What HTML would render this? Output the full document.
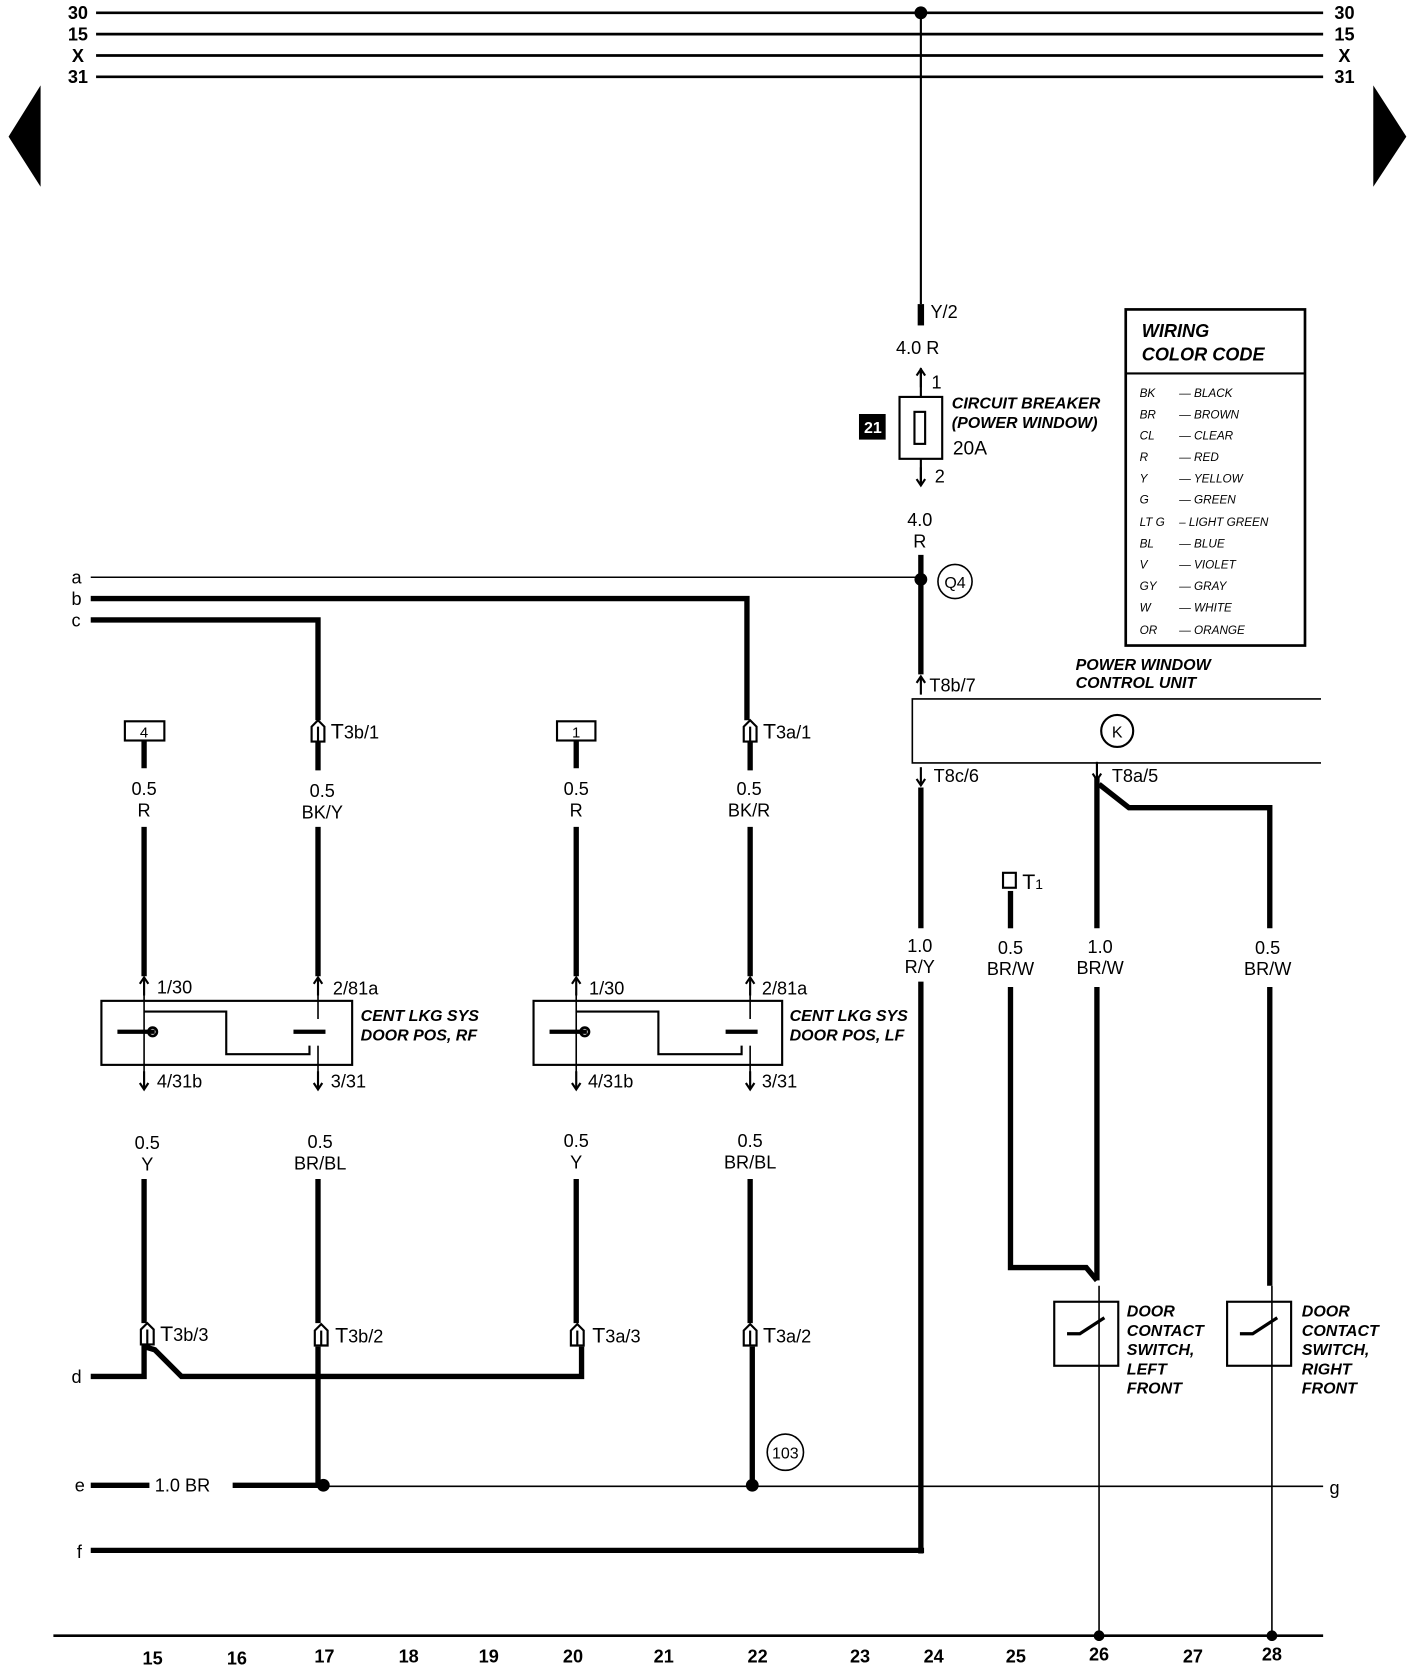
<!DOCTYPE html>
<html><head><meta charset="utf-8"><style>
html,body{margin:0;padding:0;background:#fff}
svg{display:block}
text{font-family:"Liberation Sans",sans-serif;fill:#000}
.b{font-weight:bold}
.i{font-style:italic;font-weight:bold}
</style></head><body>
<svg width="1424" height="1672" viewBox="0 0 1334.5 1567" xmlns="http://www.w3.org/2000/svg">
<defs>
<g id="up"><line x1="0" y1="-8" x2="0" y2="8" stroke="#000" stroke-width="2"/><polyline points="-4,-3 0,-9 4,-3" fill="none" stroke="#000" stroke-width="2"/></g>
<g id="dn"><line x1="0" y1="-8" x2="0" y2="8" stroke="#000" stroke-width="2"/><polyline points="-4,3 0,9 4,3" fill="none" stroke="#000" stroke-width="2"/></g>
<g id="cn"><path d="M-6,10 L-6,-4 L0,-10 L6,-4 L6,10 Z" fill="#fff" stroke="#000" stroke-width="2"/><line x1="0" y1="-4" x2="0" y2="10" stroke="#000" stroke-width="2"/></g>
</defs>
<g stroke="#000" fill="none">
<line x1="90" y1="12" x2="1240" y2="12" stroke-width="2.5"/>
<line x1="90" y1="32" x2="1240" y2="32" stroke-width="2.5"/>
<line x1="90" y1="52" x2="1240" y2="52" stroke-width="2.5"/>
<line x1="90" y1="72" x2="1240" y2="72" stroke-width="2.5"/>
<line x1="863" y1="12" x2="863" y2="285" stroke-width="2"/>
<line x1="863" y1="285" x2="863" y2="305" stroke-width="6"/>
<line x1="863" y1="345" x2="863" y2="372" stroke-width="2"/>
<rect x="843" y="372" width="40" height="58" stroke-width="2"/>
<rect x="857" y="386" width="10" height="30" stroke-width="2"/>
<line x1="863" y1="430" x2="863" y2="455" stroke-width="2"/>
<line x1="863" y1="520" x2="863" y2="632" stroke-width="5"/>
<line x1="85" y1="541" x2="863" y2="541" stroke-width="1.5"/>
<polyline points="85,561 700,561 700,675" stroke-width="5"/>
<polyline points="85,581 298,581 298,675" stroke-width="5"/>
<circle cx="895" cy="545" r="16" stroke-width="1.5"/>
<polyline points="1238,655 855,655 855,715 1238,715" stroke-width="1.5"/>
<circle cx="1047" cy="685" r="15" stroke-width="2"/>
<line x1="863" y1="738" x2="863" y2="870" stroke-width="5"/>
<line x1="863" y1="920" x2="863" y2="1456" stroke-width="5"/>
<line x1="85" y1="1453" x2="866" y2="1453" stroke-width="5"/>
<polyline points="1028,728 1028,870" stroke-width="5"/>
<polyline points="1030,735 1058,757 1190,757 1190,870" stroke-width="5"/>
<line x1="1028" y1="925" x2="1028" y2="1200" stroke-width="5"/>
<line x1="1190" y1="925" x2="1190" y2="1205" stroke-width="5"/>
<polyline points="947,835 947,870" stroke-width="5"/>
<polyline points="947,925 947,1188 1018,1188 1028,1200" stroke-width="5"/>
<rect x="940" y="818" width="12" height="14" stroke-width="2"/>
<rect x="988" y="1220" width="60" height="60" stroke-width="2"/>
<rect x="1150" y="1220" width="60" height="60" stroke-width="2"/>
<line x1="1030" y1="1205" x2="1030" y2="1533" stroke-width="1.5"/>
<line x1="1192" y1="1205" x2="1192" y2="1533" stroke-width="1.5"/>
<polyline points="1000,1250 1012,1250 1035,1235" stroke-width="3"/>
<polyline points="1162,1250 1174,1250 1197,1235" stroke-width="3"/>
<rect x="117" y="676" width="37" height="18" stroke-width="2"/>
<rect x="522" y="676" width="36" height="18" stroke-width="2"/>
<line x1="135" y1="694" x2="135" y2="720" stroke-width="5"/>
<line x1="540" y1="694" x2="540" y2="720" stroke-width="5"/>
<line x1="298" y1="694" x2="298" y2="722" stroke-width="5"/>
<line x1="703" y1="694" x2="703" y2="722" stroke-width="5"/>
<line x1="135" y1="775" x2="135" y2="915" stroke-width="5"/>
<line x1="298" y1="775" x2="298" y2="915" stroke-width="5"/>
<line x1="540" y1="775" x2="540" y2="915" stroke-width="5"/>
<line x1="703" y1="775" x2="703" y2="915" stroke-width="5"/>
<rect x="95" y="938" width="235" height="60" stroke-width="2"/>
<rect x="500" y="938" width="233" height="60" stroke-width="2"/>
<polyline points="135,948 212,948 212,988 290,988 290,980" stroke-width="2"/>
<polyline points="540,948 617,948 617,988 695,988 695,980" stroke-width="2"/>
<line x1="135" y1="930" x2="135" y2="1005" stroke-width="1.5"/>
<line x1="540" y1="930" x2="540" y2="1005" stroke-width="1.5"/>
<line x1="298" y1="930" x2="298" y2="955" stroke-width="1.5"/>
<line x1="703" y1="930" x2="703" y2="955" stroke-width="1.5"/>
<line x1="298" y1="980" x2="298" y2="1005" stroke-width="1.5"/>
<line x1="703" y1="980" x2="703" y2="1005" stroke-width="1.5"/>
<line x1="110" y1="967" x2="145" y2="967" stroke-width="4"/>
<line x1="515" y1="967" x2="550" y2="967" stroke-width="4"/>
<line x1="275" y1="967" x2="305" y2="967" stroke-width="4"/>
<line x1="680" y1="967" x2="710" y2="967" stroke-width="4"/>
<circle cx="143" cy="967" r="4" stroke-width="2.5"/>
<circle cx="548" cy="967" r="4" stroke-width="2.5"/>
<line x1="135" y1="1105" x2="135" y2="1240" stroke-width="5"/>
<line x1="298" y1="1105" x2="298" y2="1240" stroke-width="5"/>
<line x1="540" y1="1105" x2="540" y2="1240" stroke-width="5"/>
<line x1="703" y1="1105" x2="703" y2="1240" stroke-width="5"/>
<polyline points="85,1290 135,1290 135,1262 145,1265 170,1290 545,1290 545,1262" stroke-width="5"/>
<line x1="298" y1="1262" x2="298" y2="1392" stroke-width="5"/>
<line x1="705" y1="1262" x2="705" y2="1392" stroke-width="5"/>
<line x1="85" y1="1392" x2="140" y2="1392" stroke-width="5"/>
<line x1="218" y1="1392" x2="303" y2="1392" stroke-width="5"/>
<line x1="303" y1="1393" x2="1240" y2="1393" stroke-width="1.5"/>
<circle cx="736" cy="1361" r="17" stroke-width="1.5"/>
<line x1="50" y1="1533" x2="1240" y2="1533" stroke-width="2.5"/>
<rect x="1055" y="290" width="168" height="315" stroke-width="2.5"/>
<line x1="1055" y1="350" x2="1223" y2="350" stroke-width="2"/>
</g>
<use href="#up" x="863" y="355"/><use href="#dn" x="863" y="446"/>
<use href="#up" x="863" y="643"/><use href="#dn" x="863" y="727"/><use href="#dn" x="1028" y="722"/>
<use href="#up" x="135" y="925"/><use href="#up" x="298" y="925"/><use href="#up" x="540" y="925"/><use href="#up" x="703" y="925"/>
<use href="#dn" x="135" y="1012"/><use href="#dn" x="298" y="1012"/><use href="#dn" x="540" y="1012"/><use href="#dn" x="703" y="1012"/>
<use href="#cn" x="298" y="685"/><use href="#cn" x="703" y="685"/>
<use href="#cn" x="138" y="1250"/><use href="#cn" x="301" y="1251"/><use href="#cn" x="541" y="1251"/><use href="#cn" x="703" y="1251"/>
<g fill="#000">
<circle cx="863" cy="12" r="6"/>
<circle cx="863" cy="543" r="6"/>
<circle cx="303" cy="1392" r="6"/>
<circle cx="705" cy="1392" r="6"/>
<circle cx="1030" cy="1533" r="5"/>
<circle cx="1192" cy="1533" r="5"/>
<polygon points="38,80 38,175 8,128"/>
<polygon points="1287,80 1287,175 1318,128"/>
<rect x="805" y="388" width="25" height="24"/>
</g>
<g class="b" font-size="17" text-anchor="middle">
<text x="73" y="18">30</text><text x="73" y="38">15</text><text x="73" y="58">X</text><text x="73" y="78">31</text>
<text x="1260" y="18">30</text><text x="1260" y="38">15</text><text x="1260" y="58">X</text><text x="1260" y="78">31</text>
<text x="143" y="1560">15</text><text x="222" y="1560">16</text><text x="304" y="1558">17</text><text x="383" y="1558">18</text>
<text x="458" y="1558">19</text><text x="537" y="1558">20</text><text x="622" y="1558">21</text><text x="710" y="1558">22</text>
<text x="806" y="1558">23</text><text x="875" y="1558">24</text><text x="952" y="1558">25</text><text x="1030" y="1556">26</text>
<text x="1118" y="1558">27</text><text x="1192" y="1556">28</text>
</g>
<text x="818" y="406" text-anchor="middle" font-size="15" style="fill:#fff" class="b">21</text>
<g font-size="17" text-anchor="middle">
<text x="860" y="332">4.0 R</text>
<text x="862" y="493">4.0</text><text x="862" y="513">R</text>
<text x="895" y="551" font-size="15">Q4</text>
<text x="1047" y="691" font-size="15">K</text>
<text x="736" y="1367" font-size="15">103</text>
<text x="135" y="745">0.5</text><text x="135" y="765">R</text>
<text x="302" y="747">0.5</text><text x="302" y="767">BK/Y</text>
<text x="540" y="745">0.5</text><text x="540" y="765">R</text>
<text x="702" y="745">0.5</text><text x="702" y="765">BK/R</text>
<text x="138" y="1077">0.5</text><text x="138" y="1097">Y</text>
<text x="300" y="1076">0.5</text><text x="300" y="1096">BR/BL</text>
<text x="540" y="1075">0.5</text><text x="540" y="1095">Y</text>
<text x="703" y="1075">0.5</text><text x="703" y="1095">BR/BL</text>
<text x="862" y="892">1.0</text><text x="862" y="912">R/Y</text>
<text x="947" y="894">0.5</text><text x="947" y="914">BR/W</text>
<text x="1031" y="893">1.0</text><text x="1031" y="913">BR/W</text>
<text x="1188" y="894">0.5</text><text x="1188" y="914">BR/W</text>
<text x="135" y="691" font-size="14">4</text><text x="540" y="691" font-size="14">1</text>
</g>
<g font-size="17">
<text x="872" y="298">Y/2</text>
<text x="873" y="364">1</text><text x="876" y="452">2</text>
<text x="893" y="426" font-size="18">20A</text>
<text x="871" y="648">T8b/7</text>
<text x="875" y="733">T8c/6</text>
<text x="1042" y="733">T8a/5</text>
<text x="958" y="833" font-size="20">T<tspan font-size="13">1</tspan></text>
<text x="310" y="692" font-size="20">T<tspan font-size="17">3b/1</tspan></text>
<text x="715" y="692" font-size="20">T<tspan font-size="17">3a/1</tspan></text>
<text x="150" y="1257" font-size="20">T<tspan font-size="17">3b/3</tspan></text>
<text x="314" y="1258" font-size="20">T<tspan font-size="17">3b/2</tspan></text>
<text x="555" y="1258" font-size="20">T<tspan font-size="17">3a/3</tspan></text>
<text x="715" y="1258" font-size="20">T<tspan font-size="17">3a/2</tspan></text>
<text x="147" y="931">1/30</text><text x="312" y="932">2/81a</text>
<text x="552" y="932">1/30</text><text x="714" y="932">2/81a</text>
<text x="147" y="1019">4/31b</text><text x="310" y="1019">3/31</text>
<text x="551" y="1019">4/31b</text><text x="714" y="1019">3/31</text>
<text x="67" y="547">a</text><text x="67" y="567">b</text><text x="67" y="587">c</text>
<text x="67" y="1296">d</text><text x="70" y="1398">e</text><text x="72" y="1460">f</text>
<text x="1246" y="1400">g</text>
<text x="145" y="1398">1.0 BR</text>
</g>
<g class="i" font-size="15">
<text x="892" y="383">CIRCUIT BREAKER</text><text x="892" y="401">(POWER WINDOW)</text>
<text x="1008" y="628">POWER WINDOW</text><text x="1008" y="645">CONTROL UNIT</text>
<text x="338" y="957">CENT LKG SYS</text><text x="338" y="975">DOOR POS, RF</text>
<text x="740" y="957">CENT LKG SYS</text><text x="740" y="975">DOOR POS, LF</text>
<text x="1056" y="1234">DOOR</text><text x="1056" y="1252">CONTACT</text><text x="1056" y="1270">SWITCH,</text><text x="1056" y="1288">LEFT</text><text x="1056" y="1306">FRONT</text>
<text x="1220" y="1234">DOOR</text><text x="1220" y="1252">CONTACT</text><text x="1220" y="1270">SWITCH,</text><text x="1220" y="1288">RIGHT</text><text x="1220" y="1306">FRONT</text>
<text x="1070" y="316" font-size="17">WIRING</text><text x="1070" y="338" font-size="17">COLOR CODE</text>
</g>
<g font-size="11" font-style="italic">
<text x="1068" y="372">BK</text><text x="1105" y="372">— BLACK</text>
<text x="1068" y="392">BR</text><text x="1105" y="392">— BROWN</text>
<text x="1068" y="412">CL</text><text x="1105" y="412">— CLEAR</text>
<text x="1068" y="432">R</text><text x="1105" y="432">— RED</text>
<text x="1068" y="452">Y</text><text x="1105" y="452">— YELLOW</text>
<text x="1068" y="472">G</text><text x="1105" y="472">— GREEN</text>
<text x="1068" y="493">LT G</text><text x="1105" y="493">– LIGHT GREEN</text>
<text x="1068" y="513">BL</text><text x="1105" y="513">— BLUE</text>
<text x="1068" y="533">V</text><text x="1105" y="533">— VIOLET</text>
<text x="1068" y="553">GY</text><text x="1105" y="553">— GRAY</text>
<text x="1068" y="573">W</text><text x="1105" y="573">— WHITE</text>
<text x="1068" y="594">OR</text><text x="1105" y="594">— ORANGE</text>
</g>
</svg>
</body></html>
